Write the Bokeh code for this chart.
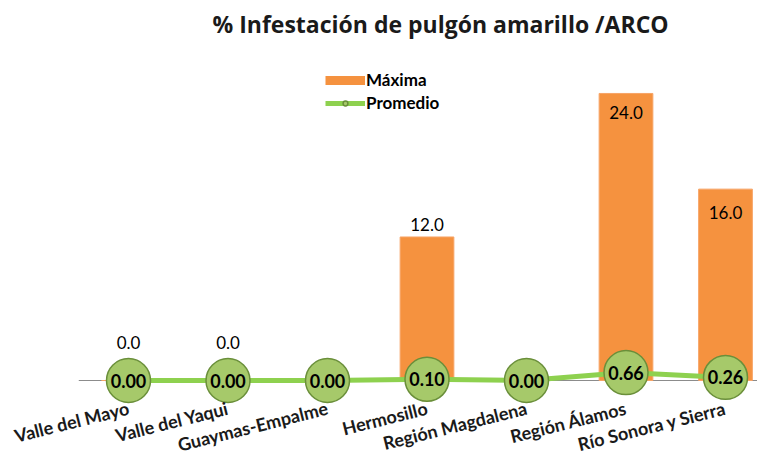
from bokeh.plotting import figure
from bokeh.models import Range1d, ColumnDataSource, Legend, LegendItem
from bokeh.core.properties import value
from bokeh.embed import file_html
from bokeh.resources import INLINE

# ---- data ----
categories = ["Valle del Mayo", "Valle del Yaqui", "Guaymas-Empalme", "Hermosillo",
              "Región Magdalena", "Región Álamos", "Río Sonora y Sierra"]
maxima = [0.0, 0.0, None, 12.0, None, 24.0, 16.0]
promedio = [0.00, 0.00, 0.00, 0.10, 0.00, 0.66, 0.26]
title_text = "% Infestación de pulgón amarillo /ARCO"

# ---- styles ----
FONT = "Lato"
ORANGE = "#F5923F"
GREEN_LINE = "#8ED14F"
MARK_FILL = "#A6C96A"
MARK_LINE = "#6A8F3A"
max_label_dy = [-38, -38, 0, -12, 0, 19, 23]   # pixel offsets of the Máxima labels

W, H = 757, 457
px_per_x = 99.5
px_per_y = 11.96
x0_px = 128          # screen x of first category
zero_px = 380        # screen y of value 0
title_h = 44

xs = list(range(len(categories)))

p = figure(width=W, height=H, output_backend="svg", toolbar_location=None,
           x_axis_location=None, y_axis_location=None, min_border=0,
           min_border_left=0, min_border_right=0, min_border_top=0, min_border_bottom=0)
p.x_range = Range1d(-x0_px / px_per_x, (W - x0_px) / px_per_x)
p.y_range = Range1d(-(H - zero_px) / px_per_y, (zero_px - title_h) / px_per_y)
p.grid.visible = False
p.outline_line_color = None
p.background_fill_color = "white"

p.title.text = title_text
p.title.align = "left"
p.title.offset = 212
p.title.text_font = "Open Sans"
p.title.text_font_size = "23px"
p.title.text_font_style = "bold"
p.title.text_color = "#1a1a1a"

# axis baseline
p.segment(x0=[-0.5], y0=[0], x1=[len(categories) - 0.5], y1=[0],
          line_color="#8C8C8C", line_width=1)

# bars
bx = [x for x, v in zip(xs, maxima) if v is not None]
bv = [v for v in maxima if v is not None]
bdy = [d for d, v in zip(max_label_dy, maxima) if v is not None]
bar_src = ColumnDataSource(dict(x=bx, top=bv, dy=bdy, lab=[f"{v:.1f}" for v in bv]))
bars = p.vbar(x="x", top="top", bottom=0, width=0.54, source=bar_src,
              fill_color=ORANGE, line_color="#F7A466", line_width=1)
p.text(x="x", y="top", text="lab", y_offset="dy", source=bar_src,
       text_align="center", text_baseline="middle", text_font=value(FONT),
       text_font_size="17px", text_color="black")

# average line + markers
avg_src = ColumnDataSource(dict(x=xs, y=promedio, lab=[f"{v:.2f}" for v in promedio]))
line = p.line(x="x", y="y", source=avg_src, line_color=GREEN_LINE, line_width=5)
marks = p.scatter(x="x", y="y", source=avg_src, size=44, marker="circle",
                  fill_color=MARK_FILL, line_color=MARK_LINE, line_width=1.5)
p.text(x="x", y="y", text="lab", source=avg_src, text_align="center",
       text_baseline="middle", text_font=value(FONT), text_font_style="bold",
       text_font_size="18px", text_color="black")

# category labels
cat_src = ColumnDataSource(dict(x=xs, y=[0] * len(xs), t=categories))
p.text(x="x", y="y", text="t", source=cat_src, angle=0.245, text_align="right",
       text_baseline="middle", x_offset=0, y_offset=27, text_font=value(FONT),
       text_font_style="bold", text_font_size="18px", text_color="#1a1a1a",
       level="overlay")

# legend sample for the bars (a thick orange stroke, like the reference key);
# a single NaN point so that nothing shows in the plot area
bar_key = p.line(x=[0], y=[float("nan")], line_color=ORANGE, line_width=9,
                 line_cap="butt")

legend = Legend(items=[LegendItem(label="Máxima", renderers=[bar_key]),
                       LegendItem(label="Promedio", renderers=[line, marks])],
                location=(325, 344), orientation="vertical",
                glyph_width=40, glyph_height=12, label_height=12,
                label_standoff=1, padding=0, spacing=2, margin=0,
                border_line_color=None, background_fill_alpha=0,
                label_text_font=FONT, label_text_font_style="bold",
                label_text_font_size="17px", label_text_color="black")
p.add_layout(legend)

open("out.html", "w").write(file_html(p, INLINE))
